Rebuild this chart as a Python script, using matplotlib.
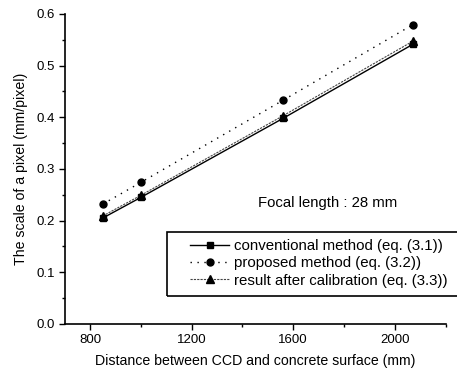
import matplotlib
matplotlib.use("Agg")
import matplotlib.pyplot as plt
from matplotlib.patches import Rectangle

plt.rcParams['font.family'] = ['Liberation Sans', 'DejaVu Sans']

distance = [850, 1000, 1560, 2070]
conventional = [0.205, 0.245, 0.398, 0.541]
proposed = [0.232, 0.274, 0.433, 0.579]
calibrated = [0.209, 0.249, 0.403, 0.547]
labels = ["conventional method (eq. (3.1))",
          "proposed method (eq. (3.2))",
          "result after calibration (eq. (3.3))"]
xticks = [800, 1200, 1600, 2000]
xminor = [1000, 1400, 1800, 2200]
yticks = [0.0, 0.1, 0.2, 0.3, 0.4, 0.5, 0.6]
yminor = [0.05, 0.15, 0.25, 0.35, 0.45, 0.55]

fig = plt.figure(figsize=(4.57, 3.74), dpi=100)
ax = fig.add_axes([0.1414, 0.1337, 0.8336, 0.8289])

l1, = ax.plot(distance, conventional, color='black', lw=1.0, ls='-',
              marker='s', ms=5, label=labels[0])
l2, = ax.plot(distance, proposed, color='black', lw=1.0, ls=(0, (1, 4)),
              marker='o', ms=5, label=labels[1])
l3, = ax.plot(distance, calibrated, color='#444444', lw=0.8, ls=(0, (2, 1)),
              marker='^', ms=6, mfc='black', mec='black', label=labels[2])

ax.set_xlim(700, 2200)
ax.set_ylim(0.0, 0.6)
ax.set_xticks(xticks)
ax.set_xticklabels([str(v) for v in xticks])
ax.set_xticks(xminor, minor=True)
ax.set_yticks(yticks)
ax.set_yticklabels([f"{v:.1f}" for v in yticks])
ax.set_yticks(yminor, minor=True)
ax.spines['top'].set_visible(False)
ax.spines['right'].set_visible(False)
ax.spines['left'].set_linewidth(1.2)
ax.spines['bottom'].set_linewidth(1.2)
ax.tick_params(which='major', direction='out', length=4, width=1, labelsize=9.5, pad=3)
ax.tick_params(which='minor', direction='out', length=2.5, width=1)

ax.set_xlabel("Distance between CCD and concrete surface (mm)", fontsize=10.2, labelpad=6)
ax.set_ylabel("The scale of a pixel (mm/pixel)", fontsize=10.2, labelpad=6)

ax.text(328 / 457, 1 - 203 / 374, "Focal length : 28 mm", transform=fig.transFigure,
        ha='center', va='center', fontsize=10.7)

# legend frame (extends past right edge like the original)
rect = Rectangle((166.7 / 457, 1 - 296 / 374), (470 - 166.7) / 457, (296 - 232) / 374,
                 transform=fig.transFigure, fill=False, edgecolor='black', lw=1.2,
                 clip_on=False)
fig.patches.append(rect)

leg = fig.legend(handles=[l1, l2, l3], loc='upper left',
                 bbox_to_anchor=(190 / 457, 1 - 239 / 374),
                 frameon=False, fontsize=10.8, handlelength=2.6, handletextpad=0.3,
                 labelspacing=0.22, borderaxespad=0, borderpad=0)

fig.savefig("out.png", dpi=100)
